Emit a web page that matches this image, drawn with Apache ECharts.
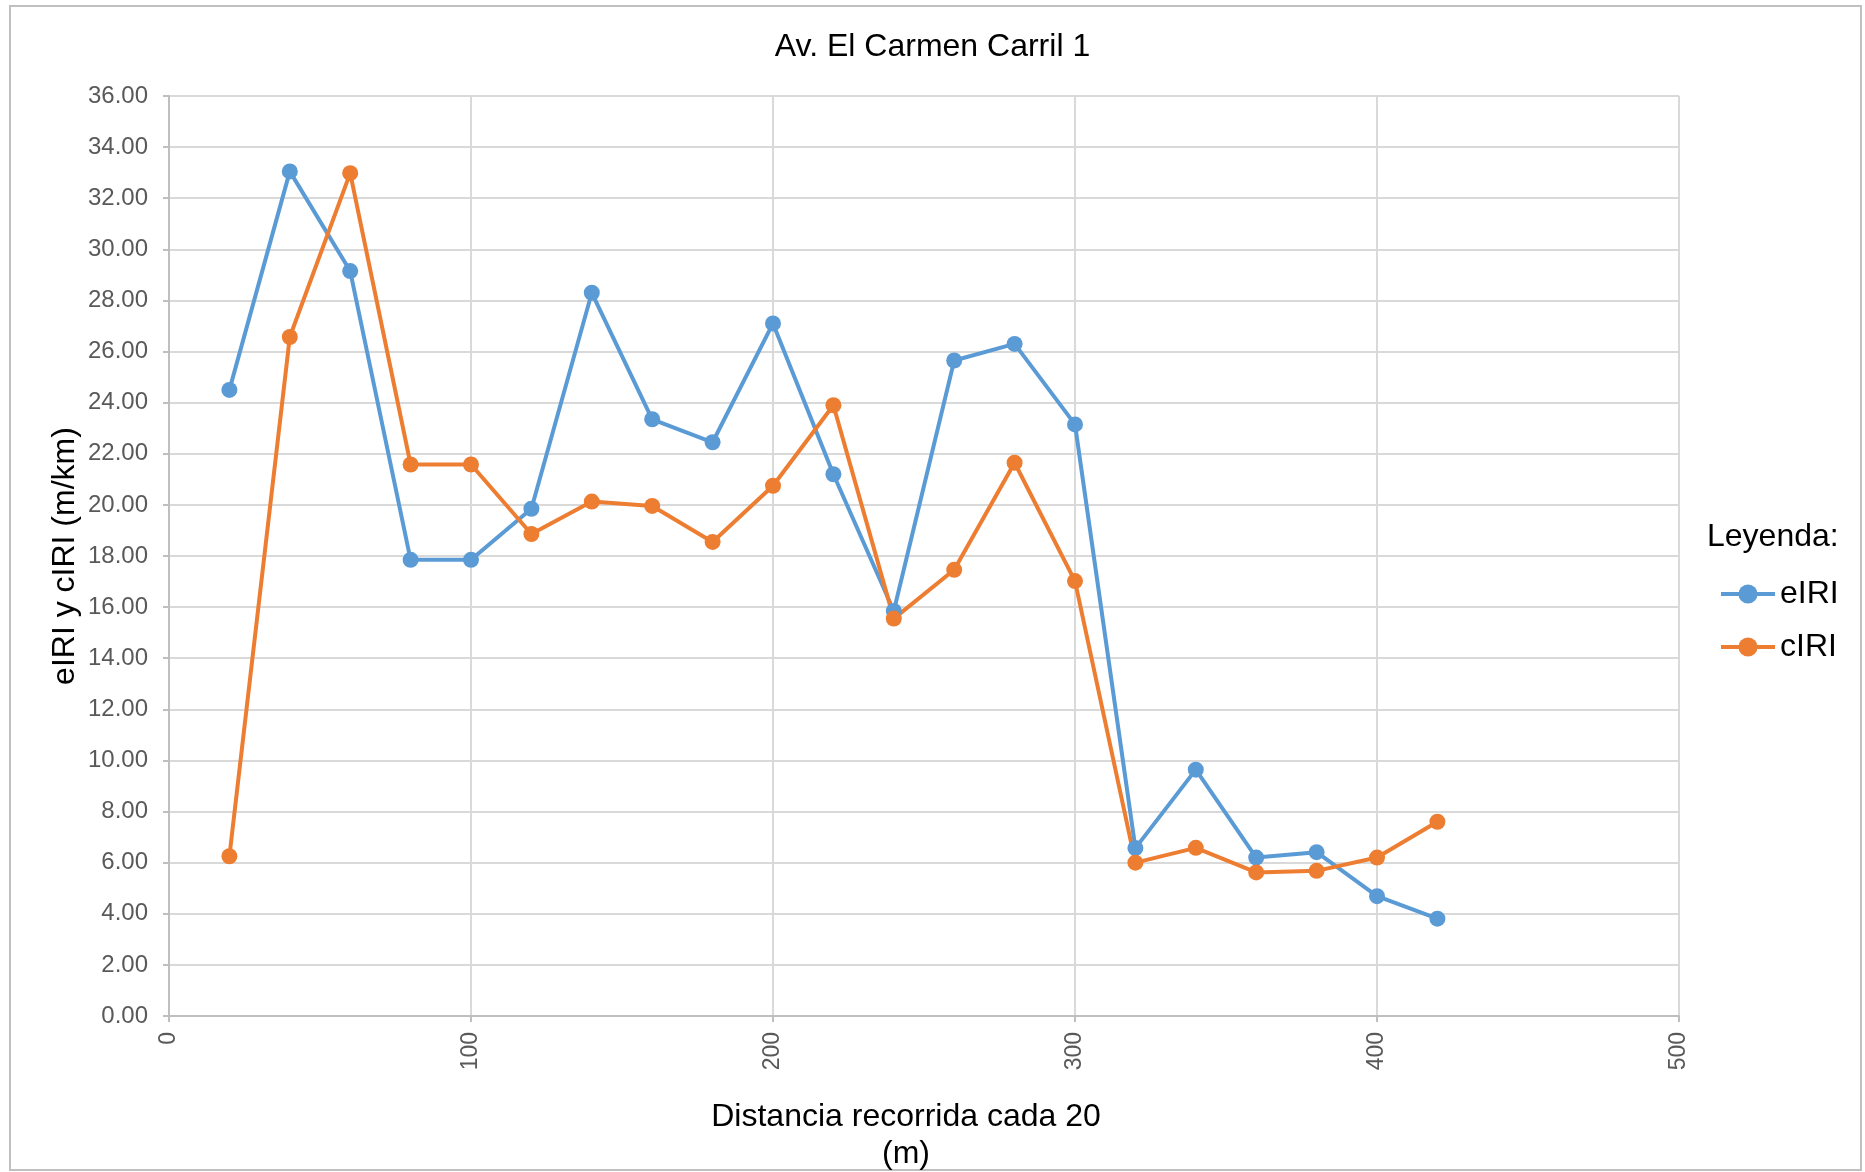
<!DOCTYPE html>
<html>
<head>
<meta charset="utf-8">
<script src="https://cdn.jsdelivr.net/npm/echarts@6/dist/echarts.min.js"></script>
<style>
html,body{margin:0;padding:0;background:#fff;}
#chart{width:1865px;height:1172px;}
</style>
</head>
<body>
<div id="chart"></div>
<script>
const distances = [20,40,60,80,100,120,140,160,180,200,220,240,260,280,300,320,340,360,380,400,420];
const eIRI = [24.5,33.05,29.15,17.85,17.85,19.85,28.3,23.35,22.45,27.1,21.2,15.85,25.65,26.3,23.15,6.57,9.64,6.2,6.41,4.69,3.81];
const cIRI = [6.25,26.57,32.98,21.58,21.58,18.86,20.13,19.96,18.55,20.75,23.9,15.55,17.46,21.65,17.02,6.0,6.58,5.62,5.68,6.2,7.6];
const seriesNames = ['eIRI','cIRI'];
const xTicks = {min:0, max:500, interval:100};
const yTicks = {min:0, max:36, interval:2};

const FONT = "'Liberation Sans', Arial, sans-serif";
const chart = echarts.init(document.getElementById('chart'), null, {renderer:'canvas'});
const pairs = arr => distances.map((d,i)=>[d, arr[i]]);

chart.setOption({
  animation:false,
  backgroundColor:'#ffffff',
  textStyle:{fontFamily:FONT},
  graphic:[{
    type:'rect', shape:{x:10,y:6,width:1851,height:1164},
    style:{fill:'none', stroke:'#c0c0c0', lineWidth:2}, silent:true, z:-1
  }],
  title:[
    {text:'Av. El Carmen Carril 1', left:'center', top:26,
     textStyle:{fontFamily:FONT, fontSize:32, fontWeight:'normal', color:'#000'}},
    {text:'Leyenda:', left:1702, top:516,
     textStyle:{fontFamily:FONT, fontSize:32, fontWeight:'normal', color:'#000'}}
  ],
  legend:{
    orient:'vertical', left:1714, top:573,
    itemWidth:54, itemHeight:24, itemGap:21,
    data:seriesNames,
    lineStyle:{width:4},
    textStyle:{fontFamily:FONT, fontSize:32, color:'#000', lineHeight:32}
  },
  grid:{left:169, right:186, top:96, bottom:156, containLabel:false, outerBoundsMode:'none'},
  xAxis:{
    type:'value', min:xTicks.min, max:xTicks.max, interval:xTicks.interval,
    name:'Distancia recorrida cada 20\n(m)', nameLocation:'middle', nameGap:83, nameMoveOverlap:false,
    nameTextStyle:{fontFamily:FONT, fontSize:32, color:'#000', lineHeight:37, padding:[0,36,0,0]},
    axisLine:{show:true, lineStyle:{color:'#bfbfbf', width:2}},
    axisTick:{show:true, length:6, lineStyle:{color:'#bfbfbf', width:2}},
    axisLabel:{rotate:90, margin:16, fontFamily:FONT, fontSize:23, color:'#595959'},
    splitLine:{show:true, lineStyle:{color:'#d9d9d9', width:2}}
  },
  yAxis:{
    type:'value', min:yTicks.min, max:yTicks.max, interval:yTicks.interval,
    name:'eIRI y cIRI (m/km)', nameLocation:'middle', nameGap:88, nameRotate:90, nameMoveOverlap:false,
    nameTextStyle:{fontFamily:FONT, fontSize:32, color:'#000'},
    axisLine:{show:true, lineStyle:{color:'#bfbfbf', width:2}},
    axisTick:{show:true, length:6, lineStyle:{color:'#bfbfbf', width:2}},
    axisLabel:{margin:21, fontFamily:FONT, fontSize:24, color:'#595959',
      formatter:v=>v.toFixed(2)},
    splitLine:{show:true, lineStyle:{color:'#d9d9d9', width:2}}
  },
  series:[
    {name:seriesNames[0], type:'line', data:pairs(eIRI), symbol:'circle', symbolSize:16,
     itemStyle:{color:'#5B9BD5'}, lineStyle:{color:'#5B9BD5', width:4}},
    {name:seriesNames[1], type:'line', data:pairs(cIRI), symbol:'circle', symbolSize:16,
     itemStyle:{color:'#ED7D31'}, lineStyle:{color:'#ED7D31', width:4}}
  ]
});
</script>
</body>
</html>
